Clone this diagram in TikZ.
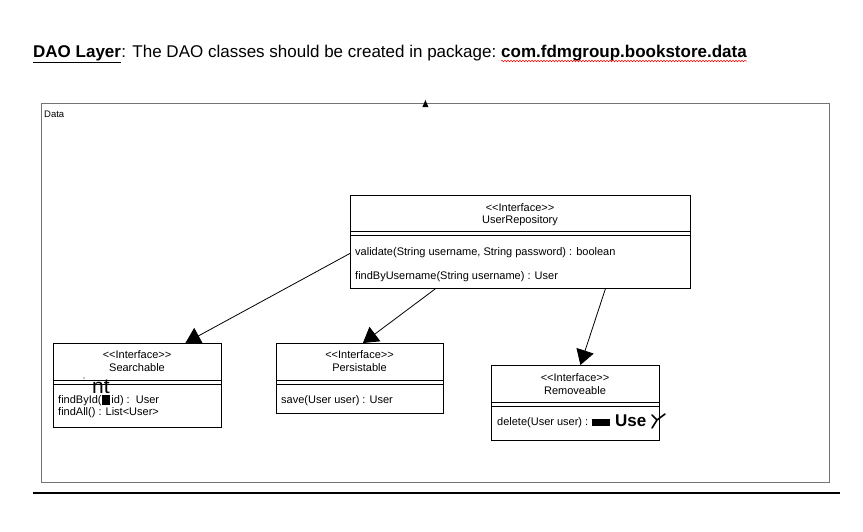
\documentclass[tikz,border=0pt]{standalone}
\usepackage{fontspec}
\setmainfont{Liberation Sans}
\usetikzlibrary{arrows.meta,decorations.pathmorphing}
\begin{document}
\begin{tikzpicture}[x=1pt,y=-1pt,
  umlbox/.style={draw=black,line width=0.8pt,anchor=north west,inner sep=0pt},
  txt/.style={inner sep=0pt,font=\fontsize{11}{13}\selectfont},
  hand/.style={inner sep=0pt,font=\fontsize{17}{18}\selectfont\bfseries},
  assoc/.style={draw=black,line width=0.8pt,-{Triangle[width=18pt,length=15pt]}},
  sepline/.style={line width=0.8pt}]
\useasboundingbox (0,0) rectangle (863,531);
% title
\node[inner sep=0pt,anchor=base west,font=\fontsize{17}{20}\selectfont] (t1) at (33,57) {\underline{\textbf{DAO Layer}}};
\node[inner sep=0pt,anchor=base west,font=\fontsize{17}{20}\selectfont] (t2) at (t1.base east) {: The DAO classes should be created in package:};
\node[inner sep=0pt,anchor=base west,font=\fontsize{17}{20}\selectfont\bfseries] (t3) at ([xshift=4.5pt]t2.base east) {com.fdmgroup.bookstore.data};
\draw[red,line width=0.5pt,decorate,decoration={snake,amplitude=0.8pt,segment length=3pt}] ([yshift=-4pt]t3.base west) -- ([yshift=-4pt]t3.base east);
% frame
\node[draw=black!55,line width=0.8pt,anchor=north west,inner sep=0pt,minimum width=788pt,minimum height=379pt] (frame) at (41,103) {};
\node[txt,anchor=north west,font=\fontsize{9.5}{11}\selectfont] (flabel) at (44,111) {Data};
\fill ([xshift=-10pt,yshift=3pt]frame.north) -- ([xshift=-13pt,yshift=-4pt]frame.north) -- ([xshift=-7pt,yshift=-4pt]frame.north) -- cycle;
% bottom rule
\coordinate (r1) at (33,493);
\coordinate (r2) at (840,493);
\draw[line width=1.3pt] (r1) -- (r2);
% UserRepository
\node[umlbox,minimum width=340pt,minimum height=93pt] (ur) at (350,195) {};
\node[txt] (urs) at (520,208) {{<}{<}Interface{>}{>}};
\node[txt] (urn) at (520,221) {UserRepository};
\draw[sepline] ([yshift=-36pt]ur.north west) -- ([yshift=-36pt]ur.north east);
\draw[sepline] ([yshift=-40pt]ur.north west) -- ([yshift=-40pt]ur.north east);
\node[txt,anchor=mid west] (urm1) at (355,253) {validate(String username, String password) : boolean};
\node[txt,anchor=mid west] (urm2) at (355,277) {findByUsername(String username) : User};
% Searchable
\node[umlbox,minimum width=168pt,minimum height=84pt] (sr) at (53,343) {};
\node[txt] (srs) at (137,355) {{<}{<}Interface{>}{>}};
\node[txt] (srn) at (137,368) {Searchable};
\draw[sepline] ([yshift=-37pt]sr.north west) -- ([yshift=-37pt]sr.north east);
\draw[sepline] ([yshift=-41pt]sr.north west) -- ([yshift=-41pt]sr.north east);
\node[txt,anchor=mid west] (srm1) at (58,401) {findById(\raisebox{-1.5pt}{\rule{8pt}{10pt}}\,id) :\ \ User};
\node[txt,anchor=mid west] (srm2) at (58,413) {findAll() : List{<}User{>}};
\node[inner sep=0pt,font=\fontsize{21}{22}\selectfont] (srh) at (101,387) {nt};
\fill (84,378) circle (0.7pt);
% Persistable
\node[umlbox,minimum width=167pt,minimum height=70pt] (ps) at (276,343) {};
\node[txt] (pss) at (359.5,355) {{<}{<}Interface{>}{>}};
\node[txt] (psn) at (359.5,368) {Persistable};
\draw[sepline] ([yshift=-37pt]ps.north west) -- ([yshift=-37pt]ps.north east);
\draw[sepline] ([yshift=-41pt]ps.north west) -- ([yshift=-41pt]ps.north east);
\node[txt,anchor=mid west] (psm1) at (281,401) {save(User user) : User};
% Removeable
\node[umlbox,minimum width=168pt,minimum height=75pt] (rm) at (491,365) {};
\node[txt] (rms) at (575,378) {{<}{<}Interface{>}{>}};
\node[txt] (rmn) at (575,391) {Removeable};
\draw[sepline] ([yshift=-37pt]rm.north west) -- ([yshift=-37pt]rm.north east);
\draw[sepline] ([yshift=-41pt]rm.north west) -- ([yshift=-41pt]rm.north east);
\node[txt,anchor=mid west] (rmm1) at (497,423) {delete(User user) : \raisebox{-0.5pt}{\rule{18pt}{7pt}}};
\node[hand,anchor=west] (rmh) at (615,421) {Use};
\draw[line width=1.6pt,line cap=round] (652,428) -- (657,420) -- (665,414) (657,420) -- (652,415);
% connectors
\draw[assoc] ([yshift=-11.5pt]ur.west) -- ([xshift=48pt]sr.north);
\draw[assoc] ([xshift=-85pt]ur.south) -- ([xshift=3pt]ps.north);
\draw[assoc] ([xshift=85pt]ur.south) -- ([xshift=5pt]rm.north);
\end{tikzpicture}
\end{document}
